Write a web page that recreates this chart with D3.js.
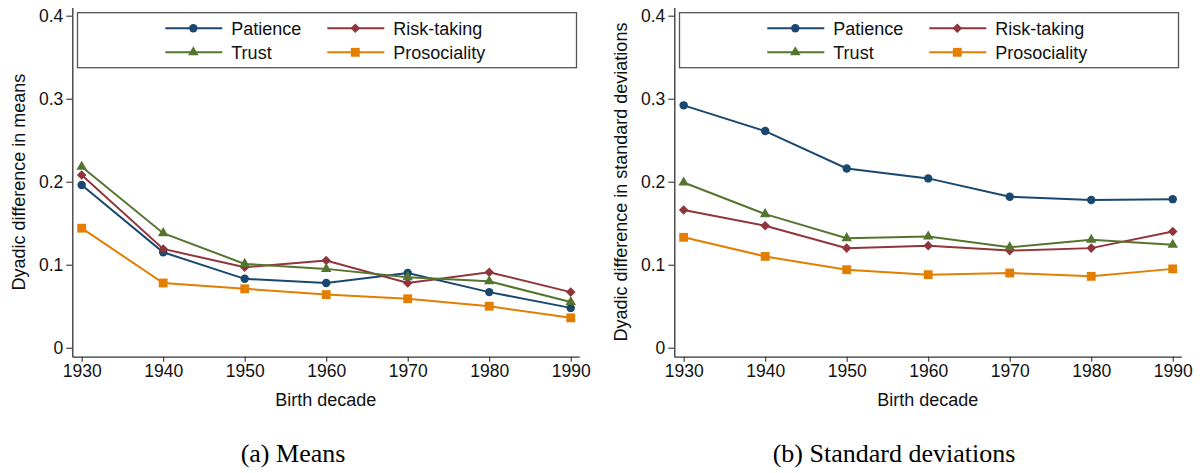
<!DOCTYPE html>
<html>
<head>
<meta charset="utf-8">
<script src="https://cdn.jsdelivr.net/npm/d3@7"></script>
<style>
  body { margin: 0; background: #fff; }
  svg { display: block; }
</style>
</head>
<body>
<div id="chart"></div>
<script>
// birth decades on the x axis
var decades = [1930, 1940, 1950, 1960, 1970, 1980, 1990];
var yTicks = [0, 0.1, 0.2, 0.3, 0.4];

var seriesNames = ["Patience", "Risk-taking", "Trust", "Prosociality"];

// panel (a): dyadic difference in means
var meansPatience     = [0.196, 0.115, 0.083, 0.078, 0.090, 0.067, 0.048];
var meansRisk         = [0.208, 0.119, 0.097, 0.105, 0.078, 0.091, 0.067];
var meansTrust        = [0.218, 0.138, 0.101, 0.095, 0.085, 0.080, 0.055];
var meansProsocial    = [0.144, 0.078, 0.071, 0.064, 0.059, 0.050, 0.036];

// panel (b): dyadic difference in standard deviations
var sdPatience        = [0.292, 0.261, 0.216, 0.204, 0.182, 0.178, 0.179];
var sdRisk            = [0.166, 0.147, 0.120, 0.123, 0.117, 0.120, 0.140];
var sdTrust           = [0.199, 0.161, 0.132, 0.134, 0.121, 0.130, 0.124];
var sdProsocial       = [0.133, 0.110, 0.094, 0.088, 0.090, 0.086, 0.095];

var COLORS = ["#1a476f", "#90353b", "#55752f", "#e37e00"];
var SYMBOLS = [
  {type: d3.symbolCircle, size: 56, rot: 0},
  {type: d3.symbolSquare, size: 46, rot: 45},
  {type: d3.symbolTriangle, size: 48, rot: 0},
  {type: d3.symbolSquare, size: 78, rot: 0}
];

var WIDTH = 1203;
var HEIGHT = 473;
var SANS = "'Liberation Sans', Arial, Helvetica, sans-serif";
var SERIF = "'Liberation Serif', 'Times New Roman', serif";

var svg = d3.select("#chart").append("svg")
  .attr("width", WIDTH)
  .attr("height", HEIGHT);

function drawPanel(offsetX, yTitle, caption, captionX, values) {
  var g = svg.append("g").attr("transform", "translate(" + offsetX + ",0)");

  // domains padded a little past the first/last tick, as in Stata
  var xScale = d3.scaleLinear().domain([1928.85, 1991.05]).range([72.3, 579.3]);
  var yScale = d3.scaleLinear().domain([-0.0108, 0.41]).range([356.7, 7.4]);

  var xAxis = d3.axisBottom(xScale)
    .tickValues(decades)
    .tickFormat(d3.format("d"))
    .tickSizeInner(5)
    .tickSizeOuter(0)
    .tickPadding(3);

  var yAxis = d3.axisLeft(yScale)
    .tickValues(yTicks)
    .tickFormat(function(d) { return d === 0 ? "0" : d.toFixed(1); })
    .tickSizeInner(6)
    .tickSizeOuter(0)
    .tickPadding(3);

  var gx = g.append("g")
    .attr("transform", "translate(0," + yScale.range()[0] + ")")
    .call(xAxis);
  var gy = g.append("g")
    .attr("transform", "translate(" + xScale.range()[0] + ",0)")
    .call(yAxis);

  [gx, gy].forEach(function(ax) {
    ax.select(".domain").attr("stroke", "#333").attr("stroke-width", 1.3);
    ax.selectAll(".tick line").attr("stroke", "#333").attr("stroke-width", 1.1);
    ax.selectAll(".tick text")
      .attr("fill", "#111")
      .style("font-family", SANS)
      .style("font-size", "17.5px");
  });

  // axis titles
  g.append("text")
    .attr("x", (xScale.range()[0] + xScale.range()[1]) / 2)
    .attr("y", 406)
    .attr("text-anchor", "middle")
    .style("font-family", SANS)
    .style("font-size", "18px")
    .attr("fill", "#111")
    .text("Birth decade");

  g.append("text")
    .attr("transform", "translate(25," + (yScale.range()[0] + yScale.range()[1]) / 2 + ") rotate(-90)")
    .attr("text-anchor", "middle")
    .style("font-family", SANS)
    .style("font-size", "18px")
    .attr("fill", "#111")
    .text(yTitle);

  // lines and markers
  var line = d3.line()
    .x(function(d, i) { return xScale(decades[i]); })
    .y(function(d) { return yScale(d); });

  values.forEach(function(vals, s) {
    g.append("path")
      .datum(vals)
      .attr("d", line)
      .attr("fill", "none")
      .attr("stroke", COLORS[s])
      .attr("stroke-width", 2);

    var sym = d3.symbol().type(SYMBOLS[s].type).size(SYMBOLS[s].size);
    g.append("g")
      .selectAll("path")
      .data(vals)
      .enter().append("path")
      .attr("d", sym)
      .attr("transform", function(d, i) {
        return "translate(" + xScale(decades[i]) + "," + yScale(d) + ") rotate(" + SYMBOLS[s].rot + ")";
      })
      .attr("fill", COLORS[s]);
  });

  // legend
  var lg = g.append("g");
  lg.append("rect")
    .attr("x", 77.5)
    .attr("y", 12.7)
    .attr("width", 499)
    .attr("height", 55)
    .attr("fill", "#fff")
    .attr("stroke", "#555")
    .attr("stroke-width", 1.3);

  var cols = [93, 255];
  var rows = [28.3, 52.3];
  seriesNames.forEach(function(name, s) {
    var lx = 72.3 + cols[s % 2];
    var ly = rows[Math.floor(s / 2)];
    lg.append("line")
      .attr("x1", lx).attr("x2", lx + 57)
      .attr("y1", ly).attr("y2", ly)
      .attr("stroke", COLORS[s])
      .attr("stroke-width", 2);
    lg.append("path")
      .attr("d", d3.symbol().type(SYMBOLS[s].type).size(SYMBOLS[s].size))
      .attr("transform", "translate(" + (lx + 28) + "," + ly + ") rotate(" + SYMBOLS[s].rot + ")")
      .attr("fill", COLORS[s]);
    lg.append("text")
      .attr("x", lx + 66)
      .attr("y", ly + 6.3)
      .style("font-family", SANS)
      .style("font-size", "18px")
      .attr("fill", "#111")
      .text(name);
  });

  // subfigure caption
  svg.append("text")
    .attr("x", captionX)
    .attr("y", 462)
    .attr("text-anchor", "middle")
    .style("font-family", SERIF)
    .style("font-size", "26px")
    .attr("fill", "#000")
    .text(caption);
}

drawPanel(0, "Dyadic difference in means", "(a) Means", 293,
  [meansPatience, meansRisk, meansTrust, meansProsocial]);
drawPanel(602, "Dyadic difference in standard deviations", "(b) Standard deviations", 894,
  [sdPatience, sdRisk, sdTrust, sdProsocial]);
</script>
</body>
</html>
